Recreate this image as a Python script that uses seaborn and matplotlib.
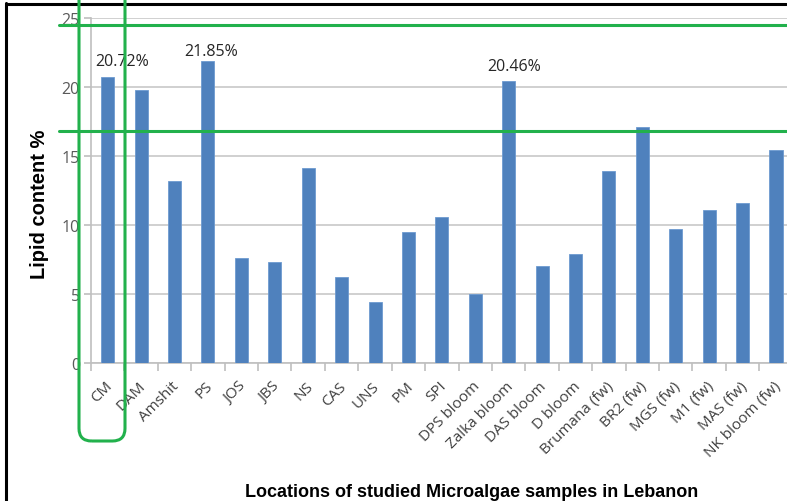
import matplotlib
matplotlib.use("Agg")
import matplotlib.pyplot as plt
import seaborn as sns
import pandas as pd
from matplotlib.patches import FancyBboxPatch
from matplotlib.lines import Line2D
import matplotlib.transforms as mtrans

categories = ["CM", "DAM", "Amshit", "PS", "JOS", "JBS", "NS", "CAS", "UNS", "PM", "SPI",
              "DPS bloom", "Zalka bloom", "DAS bloom", "D bloom", "Brumana (fw)", "BR2 (fw)",
              "MGS (fw)", "M1 (fw)", "MAS (fw)", "NK bloom (fw)"]
lipid = [20.72, 19.8, 13.2, 21.85, 7.6, 7.3, 14.1, 6.2, 4.4, 9.5, 10.6,
         5.0, 20.46, 7.0, 7.9, 13.9, 17.1, 9.7, 11.1, 11.6, 15.4]
annot_labels = ["CM", "PS", "Zalka bloom"]
annot_texts = ["20.72%", "21.85%", "20.46%"]
ref_lines = [24.5, 16.8]
yticks = [0, 5, 10, 15, 20, 25]

df = pd.DataFrame({"loc": categories, "lipid": lipid})

sns.set_theme(style="white")
plt.rcParams["font.family"] = ["Open Sans", "DejaVu Sans"]

W, H = 787, 502
fig = plt.figure(figsize=(W / 100, H / 100), dpi=100)
ax = fig.add_axes([91 / W, 1 - 364 / H, 701.7 / W, 345 / H])

sns.barplot(data=df, x="loc", y="lipid", color="#4F81BD", width=0.39, ax=ax,
            saturation=1, edgecolor="#6d9ad0", linewidth=0.6, zorder=3)

ax.set_ylim(0, 25)
ax.set_xlim(-0.5, len(categories) - 0.5)
ax.set_yticks(yticks)
ax.set_yticklabels([str(t) for t in yticks], color="#595959", fontsize=11.5)
ax.yaxis.grid(True, color="#c8c8c8", linewidth=1.2, zorder=0)
ax.set_axisbelow(True)

for s in ["top", "right"]:
    ax.spines[s].set_visible(False)
for s in ["left", "bottom"]:
    ax.spines[s].set_color("#bfbfbf")
    ax.spines[s].set_linewidth(1.2)

# category tick marks between bars
ax.set_xticks([i - 0.5 for i in range(len(categories) + 1)], minor=True)
ax.tick_params(axis="x", which="minor", length=6, color="#bfbfbf", width=1.2, bottom=True)
ax.tick_params(axis="x", which="major", length=0, pad=11)
ax.tick_params(axis="y", which="major", length=5, color="#bfbfbf", width=1.2, left=True, pad=3)
ax.set_xticks(range(len(categories)))
ax.set_xticklabels(categories, rotation=45, ha="right", va="top", rotation_mode="anchor",
                   color="#404040", fontsize=11)
for lbl in ax.get_xticklabels():
    lbl.set_transform(lbl.get_transform() + mtrans.ScaledTranslation(-2 / 72, 0, fig.dpi_scale_trans))

ax.set_xlabel("Locations of studied Microalgae samples in Lebanon", fontsize=13,
              fontweight="bold", family="Liberation Sans", color="black")
ax.xaxis.set_label_coords((472 - 91) / 701.7, -(484 - 364) / 345)
ax.set_ylabel("Lipid content %", fontsize=14.5, fontweight="bold",
              family="Liberation Sans", color="black")
ax.yaxis.set_label_coords(-(91 - 49) / 701.7, 0.464)

annot_dx = [0.42, 0.1, 0.15]
annot_dy = [1.15, 0.75, 1.05]
for lab, txt, dx, dy in zip(annot_labels, annot_texts, annot_dx, annot_dy):
    i = categories.index(lab)
    ax.text(i + dx, lipid[i] + dy, txt, ha="center", va="center",
            fontsize=11.5, color="#262626")

green = "#22b14c"
trans = mtrans.blended_transform_factory(ax.transAxes, ax.transData)
for yv in ref_lines:
    ax.add_line(Line2D([(59 - 91) / 701.7, 1.0], [yv, yv], transform=trans,
                       color=green, linewidth=2.2, clip_on=False, zorder=5))

box = FancyBboxPatch((79 / W, 1 - 442 / H), 46 / W, 0.95,
                     boxstyle="round,pad=0,rounding_size=0.016",
                     transform=fig.transFigure, fill=False, edgecolor=green,
                     linewidth=2.2, clip_on=False, zorder=5, mutation_aspect=W / H)
fig.add_artist(box)

# outer black frame (left and top)
fig.add_artist(Line2D([6 / W, 6 / W], [0, 1 - 4 / H], transform=fig.transFigure, color="black", linewidth=2.2))
fig.add_artist(Line2D([6 / W, 786 / W], [1 - 4.5 / H, 1 - 4.5 / H], transform=fig.transFigure, color="black", linewidth=2.2))

fig.savefig("out.png", dpi=100)
